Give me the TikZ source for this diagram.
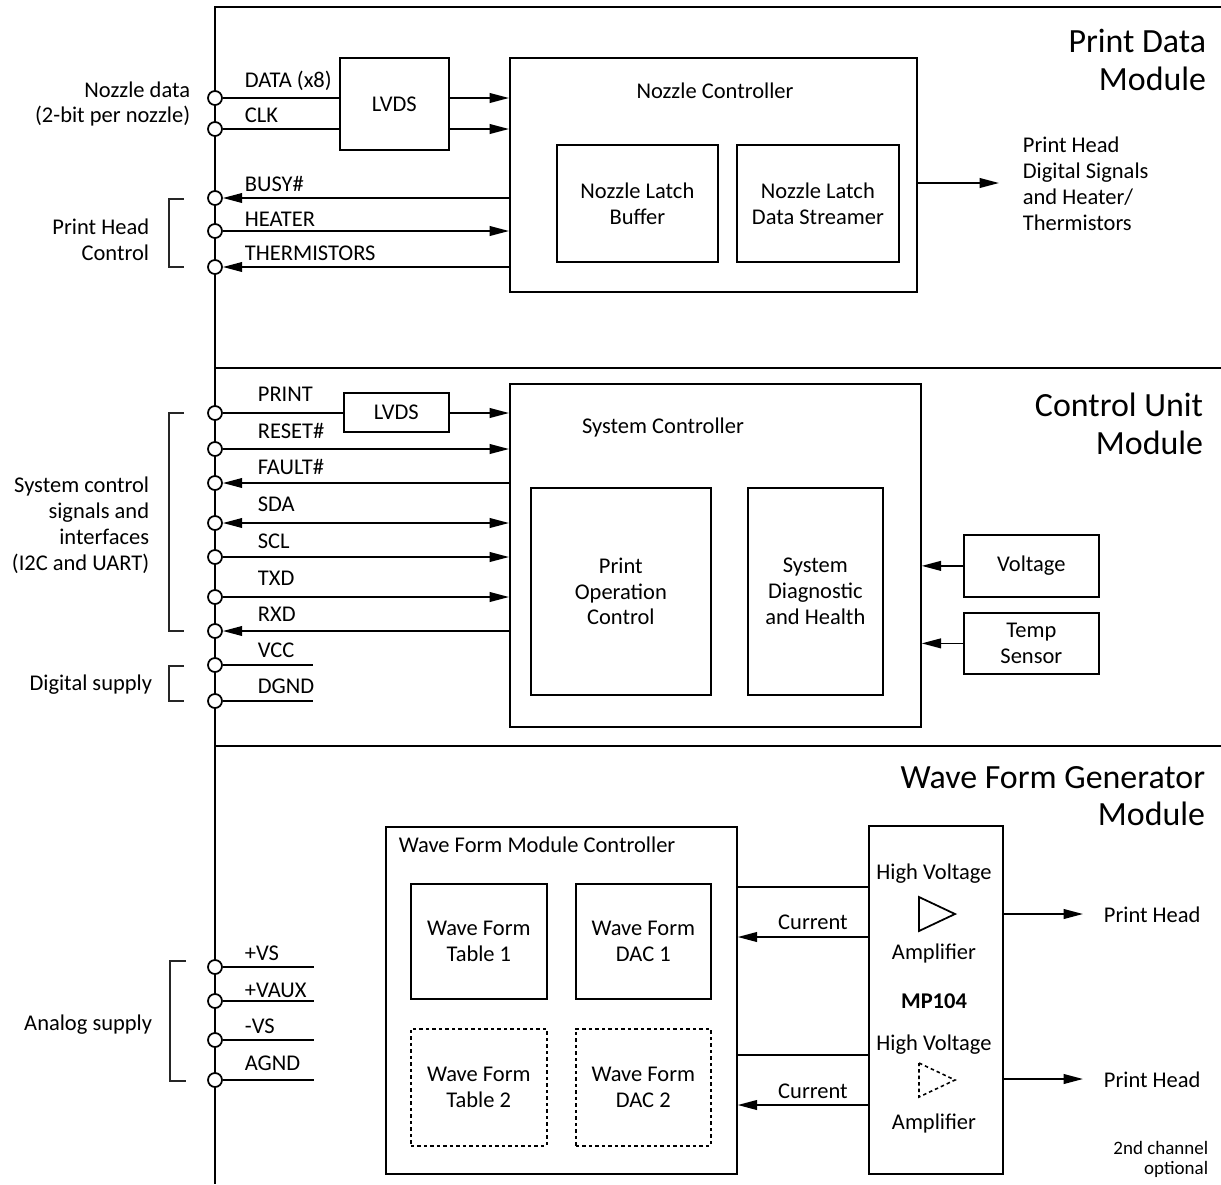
\documentclass[tikz,border=0pt]{standalone}
\usepackage{fontspec}
\setmainfont{Carlito}
\usetikzlibrary{arrows.meta,positioning}

\newcommand{\lblfont}{\fontsize{12.8}{14.7}\selectfont}
\newcommand{\ttlfont}{\fontsize{19.3}{21.5}\selectfont}
\newcommand{\smlfont}{\fontsize{10.8}{11.3}\selectfont}

\begin{document}
\begin{tikzpicture}[x=0.02cm,y=-0.02cm,line width=1pt,>={Triangle[length=11pt,width=5.5pt]}]
      \tikzstyle{every node}=[font=\lblfont,inner sep=0pt]
      \tikzstyle{pin}=[circle,draw,fill=white,minimum size=0.28cm]
      \tikzstyle{block}=[draw,align=center,anchor=north west]
      \tikzstyle{optblock}=[block,dash pattern=on 2pt off 1.7pt,line width=0.9pt]
      \tikzstyle{sig}=[anchor=base west]
      \tikzstyle{group}=[anchor=east,align=right]
      \tikzstyle{title}=[anchor=east,align=right,font=\ttlfont]
      \tikzstyle{brace}=[line width=0.6pt,black!85]
      \useasboundingbox (0,0) rectangle (1221,1184);
      %
      % module frames and bus
      \draw[line width=1.4pt] (1221,7) -- (215,7) -- (215,1184);
      \draw[line width=1.4pt] (215,368) -- (1221,368);
      \draw[line width=1.4pt] (215,746) -- (1221,746);
      %
      % Print Data Module
      \node [title] (ttlPrint) at (1207,60) {Print Data\\Module};
      \node [block,minimum width=2.18cm,minimum height=1.84cm] (lvdsA) at (339,57) {LVDS};
      \node [block,minimum width=8.14cm,minimum height=4.68cm] (nozctl) at (509,57) {};
      \node (nozctlL) at (715,91) {Nozzle Controller};
      \node [block,minimum width=3.22cm,minimum height=2.34cm] (latchbuf) at (556,144) {Nozzle Latch\\Buffer};
      \node [block,minimum width=3.24cm,minimum height=2.34cm] (latchstr) at (736,144) {Nozzle Latch\\Data Streamer};
      \node [anchor=west,align=left] (phdig) at (1022,184) {Print Head\\Digital Signals\\and Heater/\\Thermistors};
      \coordinate (phdigE) at (999,183);
      %
      \node [pin] (dataP)   at (215,98)  {};
      \node [pin] (clkP)    at (215,129) {};
      \node [pin] (busyP)   at (215,198) {};
      \node [pin] (heaterP) at (215,231) {};
      \node [pin] (thermP)  at (215,267) {};
      \node [sig] (dataL)   at (244,87)  {DATA (x8)};
      \node [sig] (clkL)    at (244,122) {CLK};
      \node [sig] (busyL)   at (244,191) {BUSY\#};
      \node [sig] (heaterL) at (244,226) {HEATER};
      \node [sig] (thermL)  at (244,260) {THERMISTORS};
      \node [group] (nozdata) at (191,104) {Nozzle data\\(2-bit per nozzle)};
      \node [group] (phctl)   at (150,240) {Print Head\\Control};
      \draw [brace] (184,199) -| (169,267) -- (184,267);
      %
      \path
      (dataP) edge (dataP -| lvdsA.west)
      (clkP)  edge (clkP -| lvdsA.west);
      \path[->]
      (dataP -| lvdsA.east)   edge (dataP -| nozctl.west)
      (clkP -| lvdsA.east)    edge (clkP -| nozctl.west)
      (busyP -| nozctl.west)  edge (busyP)
      (heaterP)               edge (heaterP -| nozctl.west)
      (thermP -| nozctl.west) edge (thermP)
      (phdigE -| nozctl.east) edge (phdigE);
      %
      % Control Unit Module
      \node [title] (ttlCtrl) at (1204,424) {Control Unit\\Module};
      \node [block,minimum width=2.1cm,minimum height=0.78cm] (lvdsB) at (343,392) {LVDS};
      \node [block,minimum width=8.22cm,minimum height=6.86cm] (sysctl) at (509,383) {};
      \node (sysctlL) at (663,427) {System Controller};
      \node [block,minimum width=3.6cm,minimum height=4.14cm] (printop) at (530,487) {Print\\Operation\\Control};
      \node [block,minimum width=2.7cm,minimum height=4.14cm] (sysdiag) at (747,487) {System\\Diagnostic\\and Health};
      \node [block,minimum width=2.7cm,minimum height=1.24cm] (voltage) at (963,534) {Voltage};
      \node [block,minimum width=2.7cm,minimum height=1.22cm] (tempsens) at (963,612) {Temp\\Sensor};
      %
      \node [pin] (printP) at (215,413) {};
      \node [pin] (resetP) at (215,449) {};
      \node [pin] (faultP) at (215,483) {};
      \node [pin] (sdaP)   at (215,523) {};
      \node [pin] (sclP)   at (215,557) {};
      \node [pin] (txdP)   at (215,597) {};
      \node [pin] (rxdP)   at (215,631) {};
      \node [pin] (vccP)   at (215,665) {};
      \node [pin] (dgndP)  at (215,701) {};
      \node [sig] (printL) at (257,401) {PRINT};
      \node [sig] (resetL) at (257,438) {RESET\#};
      \node [sig] (faultL) at (257,474) {FAULT\#};
      \node [sig] (sdaL)   at (257,511) {SDA};
      \node [sig] (sclL)   at (257,548) {SCL};
      \node [sig] (txdL)   at (257,585) {TXD};
      \node [sig] (rxdL)   at (257,621) {RXD};
      \node [sig] (vccL)   at (257,657) {VCC};
      \node [sig] (dgndL)  at (257,693) {DGND};
      \coordinate (vccE)  at (313,665);
      \coordinate (dgndE) at (313,701);
      \node [group] (sysgrp) at (150,525) {System control\\signals and\\interfaces\\(I2C and UART)};
      \node [anchor=base east] (digsup) at (153,690) {Digital supply};
      \draw [brace] (184,413) -| (169,631) -- (184,631);
      \draw [brace] (184,666) -| (169,701) -- (184,701);
      %
      \path
      (printP) edge (printP -| lvdsB.west)
      (vccP)   edge (vccE)
      (dgndP)  edge (dgndE);
      \path[->]
      (printP -| lvdsB.east)  edge (printP -| sysctl.west)
      (resetP)                edge (resetP -| sysctl.west)
      (faultP -| sysctl.west) edge (faultP)
      (sclP)                  edge (sclP -| sysctl.west)
      (txdP)                  edge (txdP -| sysctl.west)
      (rxdP -| sysctl.west)   edge (rxdP)
      (voltage)               edge (voltage -| sysctl.east)
      (tempsens)              edge (tempsens -| sysctl.east);
      \path[<->] (sdaP) edge (sdaP -| sysctl.west);
      %
      % Wave Form Generator Module
      \node [title] (ttlWave) at (1206,796) {Wave Form Generator\\Module};
      \node [block,minimum width=7.02cm,minimum height=6.94cm] (wfmc) at (385,826) {};
      \node [anchor=base west] (wfmcL) at (398,852) {Wave Form Module Controller};
      \node [block,minimum width=2.72cm,minimum height=2.3cm] (table1) at (410,883) {Wave Form\\Table 1};
      \node [block,minimum width=2.7cm,minimum height=2.3cm] (dac1) at (575,883) {Wave Form\\DAC 1};
      \node [optblock,minimum width=2.72cm,minimum height=2.34cm] (table2) at (410,1028) {Wave Form\\Table 2};
      \node [optblock,minimum width=2.7cm,minimum height=2.34cm] (dac2) at (575,1028) {Wave Form\\DAC 2};
      \node [block,minimum width=2.68cm,minimum height=6.96cm] (mp104) at (868,825) {};
      \node [anchor=base] (hvA)   at (934,879)  {High Voltage};
      \node [anchor=base] (ampA)  at (934,959)  {Amplifier};
      \node [anchor=base,font=\lblfont\bfseries] (mpL) at (934,1008) {MP104};
      \node [anchor=base] (hvB)   at (934,1050) {High Voltage};
      \node [anchor=base] (ampB)  at (934,1129) {Amplifier};
      \draw (919,897) -- (955,914) -- (919,931) -- cycle;
      \draw [dash pattern=on 2pt off 1.7pt,line width=0.9pt] (919,1063) -- (955,1080) -- (919,1097) -- cycle;
      \node [anchor=base] (curA) at (813,929)  {Current};
      \node [anchor=base] (curB) at (813,1098) {Current};
      \coordinate (ctlA) at (868,887);
      \coordinate (senA) at (868,937);
      \coordinate (ctlB) at (868,1055);
      \coordinate (senB) at (868,1105);
      \coordinate (headA) at (1083,914);
      \coordinate (headB) at (1083,1079);
      \node [sig] (headAL) at (1103,922)  {Print Head};
      \node [sig] (headBL) at (1103,1087) {Print Head};
      \node [anchor=east,align=right,font=\smlfont] (chan2) at (1209,1159) {2nd channel\\optional};
      %
      \node [pin] (vsP)   at (215,967)  {};
      \node [pin] (vauxP) at (215,1001) {};
      \node [pin] (nvsP)  at (215,1040) {};
      \node [pin] (agndP) at (215,1080) {};
      \node [sig] (vsL)   at (244,960)  {+VS};
      \node [sig] (vauxL) at (244,997)  {+VAUX};
      \node [sig] (nvsL)  at (244,1033) {-VS};
      \node [sig] (agndL) at (244,1070) {AGND};
      \coordinate (vsE)   at (314,967);
      \coordinate (vauxE) at (314,1001);
      \coordinate (nvsE)  at (314,1040);
      \coordinate (agndE) at (314,1080);
      \node [anchor=base east] (anasup) at (153,1030) {Analog supply};
      \draw [brace] (186,961) -| (170,1081) -- (186,1081);
      %
      \path
      (vsP)   edge (vsE)
      (vauxP) edge (vauxE)
      (nvsP)  edge (nvsE)
      (agndP) edge (agndE)
      (ctlA)  edge (ctlA -| wfmc.east)
      (ctlB)  edge (ctlB -| wfmc.east);
      \path[->]
      (senA) edge (senA -| wfmc.east)
      (senB) edge (senB -| wfmc.east)
      (headA -| mp104.east) edge (headA)
      (headB -| mp104.east) edge (headB);
\end{tikzpicture}
\end{document}
